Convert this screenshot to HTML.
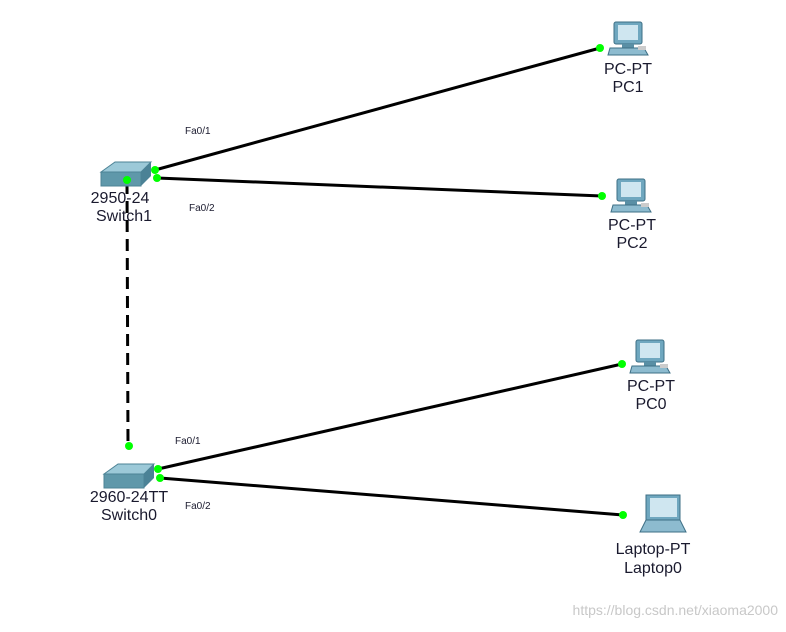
<!DOCTYPE html><html><head><style>body{margin:0;background:#fff}svg{display:block}text{font-family:"Liberation Sans",sans-serif;fill:#1a1a2e}</style></head><body>
<svg width="786" height="632" viewBox="0 0 786 632">
<defs>
<g id="pc"><rect x="4" y="0" width="28" height="22" rx="2" fill="#6fa7bf" stroke="#3d6f85"/><rect x="8" y="3" width="20" height="15" fill="#cfe6f0"/><rect x="12" y="22" width="12" height="4" fill="#5a8fa5"/><polygon points="0,26 34,26 38,33 -2,33" fill="#8dbbcf" stroke="#3d6f85"/><rect x="28" y="24" width="8" height="4" fill="#ccc"/></g>
<g id="sw"><polygon points="0,10 14,0 50,0 40,10" fill="#9cc9d8" stroke="#4d8396"/><rect x="0" y="10" width="40" height="14" fill="#5f98aa" stroke="#4d8396"/><polygon points="40,10 50,0 50,14 40,24" fill="#4b8296"/></g>
</defs>
<g stroke="#000" stroke-width="3">
<line x1="155" y1="170" x2="600" y2="48"/><line x1="157" y1="178" x2="602" y2="196"/>
<line x1="158" y1="469" x2="622" y2="364"/><line x1="160" y1="478" x2="623" y2="515"/>
<line x1="127" y1="182" x2="128" y2="446" stroke-dasharray="12,7"/>
</g>
<use href="#sw" x="101" y="162"/><use href="#sw" x="104" y="464"/>
<use href="#pc" x="610" y="22"/><use href="#pc" x="613" y="179"/><use href="#pc" x="632" y="340"/>
<g><polygon points="646,495 680,495 680,520 646,520" fill="#6fa7bf" stroke="#3d6f85"/><rect x="650" y="498" width="27" height="19" fill="#cfe6f0"/><polygon points="646,520 680,520 686,532 640,532" fill="#8dbbcf" stroke="#3d6f85"/></g>
<g fill="#0f0"><circle cx="155" cy="170" r="4"/><circle cx="157" cy="178" r="4"/><circle cx="127" cy="180" r="4"/><circle cx="600" cy="48" r="4"/><circle cx="602" cy="196" r="4"/><circle cx="158" cy="469" r="4"/><circle cx="160" cy="478" r="4"/><circle cx="129" cy="446" r="4"/><circle cx="622" cy="364" r="4"/><circle cx="623" cy="515" r="4"/></g>
<g font-size="16" text-anchor="middle">
<text x="120" y="203">2950-24</text><text x="124" y="221">Switch1</text>
<text x="129" y="502">2960-24TT</text><text x="129" y="520">Switch0</text>
<text x="628" y="74">PC-PT</text><text x="628" y="92">PC1</text>
<text x="632" y="230">PC-PT</text><text x="632" y="248">PC2</text>
<text x="651" y="391">PC-PT</text><text x="651" y="409">PC0</text>
<text x="653" y="554">Laptop-PT</text><text x="653" y="573">Laptop0</text>
</g>
<g font-size="10"><text x="185" y="134">Fa0/1</text><text x="189" y="211">Fa0/2</text><text x="175" y="444">Fa0/1</text><text x="185" y="509">Fa0/2</text></g>
<text x="778" y="615" font-size="14" text-anchor="end" style="fill:#c8c8c8">https://blog.csdn.net/xiaoma2000</text>
</svg></body></html>
